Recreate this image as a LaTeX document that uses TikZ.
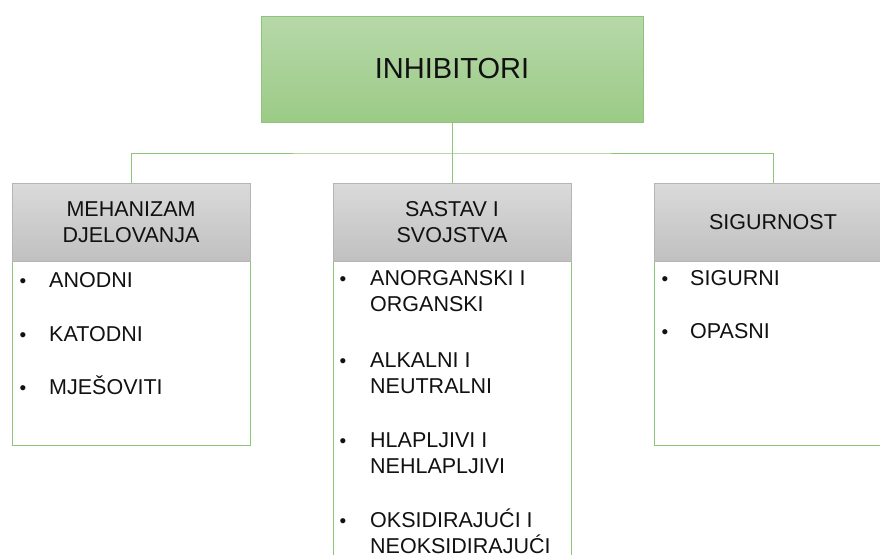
\documentclass[tikz,border=0pt]{standalone}
\usepackage{fontspec}
\setmainfont{Liberation Sans}
\definecolor{gline}{HTML}{8CC57A}
\definecolor{gtop}{HTML}{B7D8A9}
\definecolor{gbot}{HTML}{9BCB86}
\definecolor{htop}{HTML}{DADADA}
\definecolor{hbot}{HTML}{C0C0C0}
\definecolor{hline}{HTML}{B5B5B5}
\definecolor{tx}{HTML}{111111}
\newcommand{\twoln}[2]{\begin{tabular}[t]{@{}l@{}}#1\\#2\end{tabular}}
\tikzset{
  topbox/.style={draw=gline, line width=0.9pt, top color=gtop, bottom color=gbot,
    minimum width=382pt, minimum height=106pt, inner sep=0pt, font=\fontsize{29}{34}\selectfont, text=tx},
  headbox/.style={draw=hline, line width=0.8pt, top color=htop, bottom color=hbot,
    minimum width=238pt, minimum height=78pt, inner sep=0pt, align=center,
    font=\fontsize{21.5}{26}\selectfont, text=tx},
  listbox/.style={draw=gline, line width=0.9pt, fill=white, minimum width=238pt, inner sep=0pt},
  item/.style={anchor=base west, inner sep=0pt, font=\fontsize{21.5}{26}\selectfont, text=tx},
  bul/.style={anchor=base, inner sep=0pt, font=\fontsize{19}{26}\selectfont, text=tx},
  conn/.style={draw=gline, line width=1pt}
}
\renewcommand{\arraystretch}{1.0}
\begin{document}
\begin{tikzpicture}[x=1pt,y=-1pt]
\useasboundingbox (0,0) rectangle (880,554);
\clip (0,0) rectangle (880,554);
% top
\node[topbox] (top) at (452,69) {INHIBITORI};
% list boxes
\node[listbox, minimum height=184pt] (b1) at (131,353) {};
\node[listbox, minimum height=330pt] (b2) at (452,426) {};
\node[listbox, minimum height=184pt] (b3) at (773,353) {};
% headers
\node[headbox] (h1) at (131,222) {MEHANIZAM\\DJELOVANJA};
\node[headbox] (h2) at (452,222) {SASTAV I\\SVOJSTVA};
\node[headbox] (h3) at (773,222) {SIGURNOST};
% connectors
\coordinate (bus) at (452,153);
\draw[conn] (top.south) -- (h2.north);
\draw[conn] (h1.north) |- (bus) -| (h3.north);
% left items
\node[bul] (l1b) at (23,287) {•};
\node[item] (l1) at (49,287) {ANODNI};
\node[bul] (l2b) at (23,341) {•};
\node[item] (l2) at (49,341) {KATODNI};
\node[bul] (l3b) at (23,394) {•};
\node[item] (l3) at (49,394) {MJEŠOVITI};
% middle items
\node[bul] (m1b) at (343,285) {•};
\node[item] (m1) at (370,285) {\twoln{ANORGANSKI I}{ORGANSKI}};
\node[bul] (m2b) at (343,367) {•};
\node[item] (m2) at (370,367) {\twoln{ALKALNI I}{NEUTRALNI}};
\node[bul] (m3b) at (343,447) {•};
\node[item] (m3) at (370,447) {\twoln{HLAPLJIVI I}{NEHLAPLJIVI}};
\node[bul] (m4b) at (343,527) {•};
\node[item] (m4) at (370,527) {\twoln{OKSIDIRAJUĆI I}{NEOKSIDIRAJUĆI}};
% right items
\node[bul] (r1b) at (665,285) {•};
\node[item] (r1) at (690,285) {SIGURNI};
\node[bul] (r2b) at (665,338) {•};
\node[item] (r2) at (690,338) {OPASNI};
\end{tikzpicture}
\end{document}
